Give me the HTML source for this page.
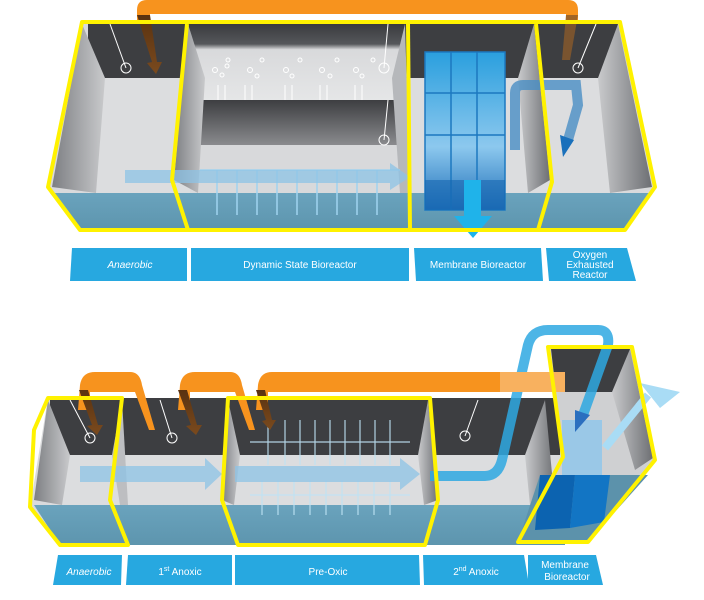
<!DOCTYPE html>
<html><head><meta charset="utf-8"><style>
html,body{margin:0;padding:0;background:#fff;width:704px;height:600px;overflow:hidden}
svg{display:block}
text{font-family:"Liberation Sans",sans-serif;fill:#fff;font-size:10px;text-anchor:middle}
</style></head><body>
<svg width="704" height="600" viewBox="0 0 704 600" xmlns="http://www.w3.org/2000/svg">
<defs>
<linearGradient id="wall" x1="0" y1="0" x2="0" y2="1">
<stop offset="0" stop-color="#3a3b3e"/><stop offset="0.25" stop-color="#55575b"/><stop offset="0.32" stop-color="#d8d9db"/><stop offset="1" stop-color="#e6e7e8"/></linearGradient>
<linearGradient id="dark2" x1="0" y1="0" x2="0" y2="1">
<stop offset="0" stop-color="#3d3e41"/><stop offset="1" stop-color="#8a8b8e"/></linearGradient>
<linearGradient id="side" x1="0" y1="0" x2="1" y2="0">
<stop offset="0" stop-color="#7d7f83"/><stop offset="1" stop-color="#c9cacc"/></linearGradient>
<linearGradient id="sideR" x1="0" y1="0" x2="1" y2="0">
<stop offset="0" stop-color="#c9cacc"/><stop offset="1" stop-color="#6d6f73"/></linearGradient>
<linearGradient id="water" x1="0" y1="0" x2="0" y2="1">
<stop offset="0" stop-color="#6aa3bd"/><stop offset="1" stop-color="#5d95ae"/></linearGradient>
<linearGradient id="mem" x1="0" y1="0" x2="0" y2="1">
<stop offset="0" stop-color="#2a9fde"/><stop offset="0.6" stop-color="#8cc8ee"/><stop offset="1" stop-color="#1f6fb8"/></linearGradient>
<linearGradient id="brown" x1="0" y1="0" x2="0" y2="1">
<stop offset="0" stop-color="#5a3210"/><stop offset="1" stop-color="#7a4a1e"/></linearGradient>
</defs>

<!-- ========== TOP DIAGRAM ========== -->
<path d="M137,48 L137,10 Q137,0 147,0 L568,0 Q578,0 578,10 L578,30 L566,30 L566,14 L150,14 L150,48 Z" fill="#f7931e"/>
<polygon points="82,22 620,22 655,187 625,230 80,230 48,187" fill="#d9dadc"/>
<rect x="88" y="24" width="530" height="54" fill="#3d3e41"/>
<rect x="88" y="78" width="530" height="115" fill="#dcdddf"/>
<rect x="190" y="24" width="215" height="80" fill="url(#wall)"/>
<rect x="190" y="100" width="215" height="45" fill="url(#dark2)"/>
<rect x="190" y="145" width="215" height="50" fill="#d8d9db"/>
<polygon points="82,24 105,78 96,193 52,187" fill="url(#side)"/>
<polygon points="618,24 598,78 610,193 652,187" fill="url(#sideR)"/>
<polygon points="188,24 205,78 198,193 174,180" fill="url(#side)"/>
<polygon points="534,24 518,78 528,193 550,180" fill="url(#sideR)"/>
<polygon points="405,24 392,78 400,193 410,193" fill="#b6b8bb"/>
<polygon points="50,193 652,193 625,230 80,230" fill="url(#water)"/>
<g stroke="#9fd3ef" stroke-width="1.5" fill="none">
<line x1="200" y1="170" x2="400" y2="170"/>
<path d="M217,170v45M237,170v45M257,170v45M277,170v45M297,170v45M317,170v45M337,170v45M357,170v45M377,170v45"/>
</g>
<g fill="none" stroke="#fff" stroke-width="1">
<circle cx="215" cy="70" r="2.5"/><circle cx="222" cy="75" r="2"/><circle cx="227" cy="66" r="2"/><circle cx="250" cy="70" r="2.5"/><circle cx="257" cy="76" r="2"/><circle cx="262" cy="60" r="2"/>
<circle cx="286" cy="70" r="2.5"/><circle cx="292" cy="76" r="2"/><circle cx="300" cy="60" r="2"/><circle cx="322" cy="70" r="2.5"/><circle cx="330" cy="76" r="2"/><circle cx="337" cy="60" r="2"/><circle cx="356" cy="70" r="2.5"/><circle cx="362" cy="76" r="2"/><circle cx="373" cy="60" r="2"/><circle cx="228" cy="60" r="2"/>
<path d="M218,100v-15M225,100v-15M245,100v-15M252,100v-15M285,100v-15M292,100v-15M320,100v-15M327,100v-15M355,100v-15M362,100v-15"/>
</g>
<g stroke="#fff" stroke-width="1" fill="none">
<line x1="110" y1="24" x2="126" y2="68"/><circle cx="126" cy="68" r="5"/>
<line x1="388" y1="24" x2="384" y2="68"/><circle cx="384" cy="68" r="5"/>
<line x1="388" y1="100" x2="384" y2="140"/><circle cx="384" cy="140" r="5"/>
<line x1="596" y1="24" x2="578" y2="68"/><circle cx="578" cy="68" r="5"/>
</g>
<polygon points="137,15 150,15 157,62 162,62 156,74 147,63 152,62" fill="url(#brown)"/>
<polygon points="566,15 578,15 570,60 562,60" fill="#8a5a2a" opacity="0.8"/>
<polygon points="125,170 390,170 390,163 410,177 390,190 390,183 125,183" fill="#8ec3e6" opacity="0.75"/>
<g stroke="#1c78c0" stroke-width="1.5">
<rect x="425" y="52" width="80" height="158" fill="url(#mem)"/>
<line x1="451" y1="52" x2="451" y2="210"/><line x1="477" y1="52" x2="477" y2="210"/>
<line x1="425" y1="93" x2="505" y2="93"/><line x1="425" y1="135" x2="505" y2="135"/>
</g>
<rect x="425" y="180" width="80" height="30" fill="#1565b0" opacity="0.6"/>
<polygon points="464,180 481,180 481,216 492,216 473,238 454,216 464,216" fill="#1fb3ea"/>
<path d="M515,150 L515,93 Q515,85 523,85 L576,85 L578,105 L568,140" fill="none" stroke="#4a8fc4" stroke-width="10" opacity="0.8"/>
<polygon points="560,135 574,140 563,157" fill="#1a70bb"/>
<g fill="none" stroke="#fff200" stroke-width="4" stroke-linejoin="round">
<polygon points="82,22 620,22 655,187 625,230 80,230 48,187"/>
<polyline points="187,24 172,180 188,230"/>
<polyline points="408,24 410,230"/>
<polyline points="536,24 552,182 538,230"/>
</g>
<g fill="#27a8e0">
<polygon points="72,248 187,248 187,281 70,281"/>
<polygon points="191,248 409,248 409,281 191,281"/>
<polygon points="414,248 541,248 543,281 416,281"/>
<polygon points="546,248 627,248 636,281 549,281"/>
</g>
<text x="130" y="268" font-style="italic">Anaerobic</text>
<text x="300" y="268">Dynamic State Bioreactor</text>
<text x="478" y="268">Membrane Bioreactor</text>
<text x="590" y="258" font-size="9">Oxygen</text>
<text x="590" y="268" font-size="9">Exhausted</text>
<text x="590" y="278" font-size="9">Reactor</text>

<!-- ========== BOTTOM DIAGRAM ========== -->
<polygon points="48,398 565,398 565,545 60,545 30,507" fill="#d9dadc"/>
<rect x="50" y="398" width="510" height="57" fill="#3d3e41"/>
<rect x="50" y="455" width="510" height="50" fill="#dcdddf"/>
<polygon points="48,400 70,455 62,505 34,500" fill="url(#side)"/>
<polygon points="122,400 112,455 120,505 128,505" fill="#bdbec1"/>
<polygon points="228,400 240,455 234,505 222,500" fill="url(#side)"/>
<polygon points="428,400 418,455 424,505 438,500" fill="url(#sideR)"/>
<polygon points="545,400 525,455 530,505 555,505" fill="url(#sideR)"/>
<polygon points="34,505 565,505 565,545 60,545" fill="url(#water)"/>
<!-- MBR tank -->
<polygon points="548,347 632,347 655,460 588,542 518,542 563,457" fill="#cfd0d2"/>
<polygon points="551,349 630,349 628,392 556,392" fill="#3d3e41"/>
<polygon points="630,349 653,458 635,470 612,392" fill="url(#sideR)"/>
<polygon points="540,475 648,475 588,542 518,542" fill="#5c92ab"/>
<polygon points="540,475 575,475 570,528 535,530" fill="#0c63b0"/>
<polygon points="575,475 610,475 604,522 570,528" fill="#1275c4"/>
<rect x="562" y="420" width="40" height="55" fill="#8cc6ec" opacity="0.8"/>
<g stroke="#bfe3f5" stroke-width="1.2" fill="none" opacity="0.9">
<line x1="250" y1="442" x2="410" y2="442"/><line x1="250" y1="495" x2="410" y2="495"/>
<path d="M268,420v45M285,420v45M300,420v45M315,420v45M330,420v45M345,420v45M360,420v45M375,420v45M390,420v45"/>
<path d="M262,480v35M278,480v35M294,480v35M310,480v35M326,480v35M342,480v35M358,480v35M374,480v35M390,480v35"/>
</g>
<g stroke="#fff" stroke-width="1" fill="none">
<line x1="70" y1="400" x2="90" y2="438"/><circle cx="90" cy="438" r="5"/>
<line x1="160" y1="400" x2="172" y2="438"/><circle cx="172" cy="438" r="5"/>
<line x1="478" y1="400" x2="465" y2="436"/><circle cx="465" cy="436" r="5"/>
</g>
<polygon points="80,466 205,466 205,458 222,474 205,490 205,482 80,482" fill="#8ec3e6" opacity="0.75"/>
<polygon points="235,466 400,466 400,458 420,474 400,490 400,482 235,482" fill="#8ec3e6" opacity="0.75"/>
<path d="M430,476 L485,476 Q498,476 502,460 L528,345 Q532,330 548,330 L598,330 Q610,330 608,345 L583,415" fill="none" stroke="#2ea8e2" stroke-width="10" opacity="0.85"/>
<polygon points="575,410 590,415 575,432" fill="#2b6fbf"/>
<path d="M605,448 L648,395" fill="none" stroke="#a9dcf5" stroke-width="8"/>
<polygon points="640,383 680,392 660,408" fill="#a9dcf5"/>
<g fill="#f7931e">
<path d="M78,410 L80,385 Q82,372 95,372 L130,372 Q140,372 142,385 L155,430 L149,430 L135,392 L90,392 L90,410 Z"/>
<path d="M178,410 L180,385 Q182,372 195,372 L230,372 Q240,372 242,385 L255,430 L249,430 L235,392 L190,392 L190,410 Z"/>
<path d="M256,410 L258,385 Q260,372 272,372 L565,372 L565,392 L268,392 L268,410 Z"/>
</g>
<rect x="500" y="372" width="65" height="20" fill="#f9c48a" opacity="0.6"/>
<g fill="url(#brown)">
<polygon points="79,390 88,390 98,425 103,425 97,435 87,426 92,425"/>
<polygon points="178,390 187,390 197,425 202,425 196,435 186,426 191,425"/>
<polygon points="256,390 265,390 272,420 276,420 270,430 262,421 266,420"/>
</g>
<g fill="none" stroke="#fff200" stroke-width="4" stroke-linejoin="round">
<polygon points="48,398 122,398 110,500 128,545 60,545 30,507 34,430"/>
<polygon points="228,398 430,398 438,500 425,545 238,545 222,500"/>
<polygon points="548,347 632,347 655,460 588,542 518,542 563,457"/>
</g>
<g fill="#27a8e0">
<polygon points="58,555 122,555 121,585 53,585"/>
<polygon points="128,555 232,555 232,585 126,585"/>
<polygon points="235,555 419,555 420,585 235,585"/>
<polygon points="423,555 524,555 529,585 424,585"/>
<polygon points="528,555 596,555 603,585 528,585"/>
</g>
<text x="89" y="575" font-style="italic" font-size="11">Anaerobic</text>
<text x="180" y="575" font-size="11">1<tspan font-size="7" dy="-4">st</tspan><tspan dy="4"> Anoxic</tspan></text>
<text x="328" y="575" font-size="11">Pre-Oxic</text>
<text x="476" y="575" font-size="11">2<tspan font-size="7" dy="-4">nd</tspan><tspan dy="4"> Anoxic</tspan></text>
<text x="565" y="568" font-size="10">Membrane</text>
<text x="567" y="580" font-size="10">Bioreactor</text>
</svg>
</body></html>
